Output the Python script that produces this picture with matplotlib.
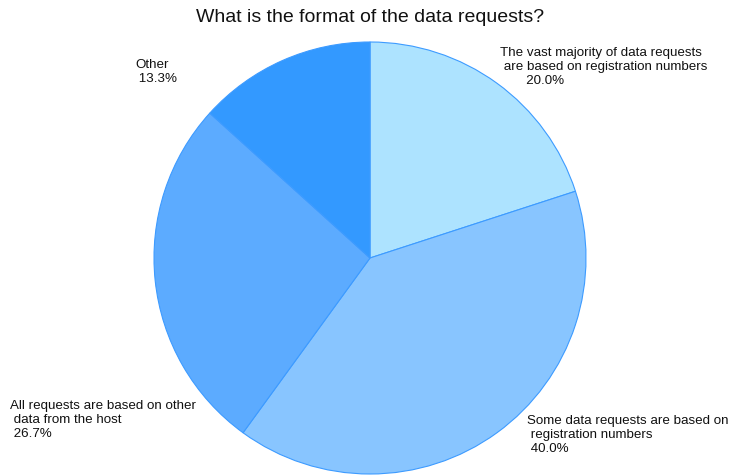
import matplotlib
matplotlib.use("Agg")
import matplotlib.pyplot as plt

plt.rcParams['font.family'] = ['Liberation Sans', 'DejaVu Sans']

title = "What is the format of the data requests?"
labels = ["The vast majority of data requests\n are based on registration numbers\n       20.0%",
          "Some data requests are based on\n registration numbers\n 40.0%",
          "All requests are based on other\n data from the host\n 26.7%",
          "Other\n 13.3%"]
values = [20.0, 40.0, 26.7, 13.3]
colors = ["#ade3ff", "#88c5ff", "#5cabff", "#3399ff"]
# top-left of each label, in pixels
label_pos = [(500, 47), (527, 415), (10, 400), (135, 59)]

W, H = 742, 477
fig = plt.figure(figsize=(W / 100, H / 100), dpi=100)
cx, cy, r = 370, 259, 216
ax = fig.add_axes([(cx - r) / W, (H - cy - r) / H, 2 * r / W, 2 * r / H])
ax.pie(values, colors=colors, startangle=90, counterclock=False, radius=1,
       wedgeprops=dict(edgecolor="#3d9bff", linewidth=0.8))
ax.set_xlim(-1, 1)
ax.set_ylim(-1, 1)
ax.set_aspect("equal")
ax.axis("off")

for lab, (px, py) in zip(labels, label_pos):
    fig.text(px / W, 1 - py / H, lab, ha="left", va="top", fontsize=9.6,
             linespacing=1.22, color="#111111")

fig.text(cx / W, 1 - 18 / H, title, ha="center", va="center", fontsize=14, color="#111111")

fig.savefig("out.png", dpi=100)
